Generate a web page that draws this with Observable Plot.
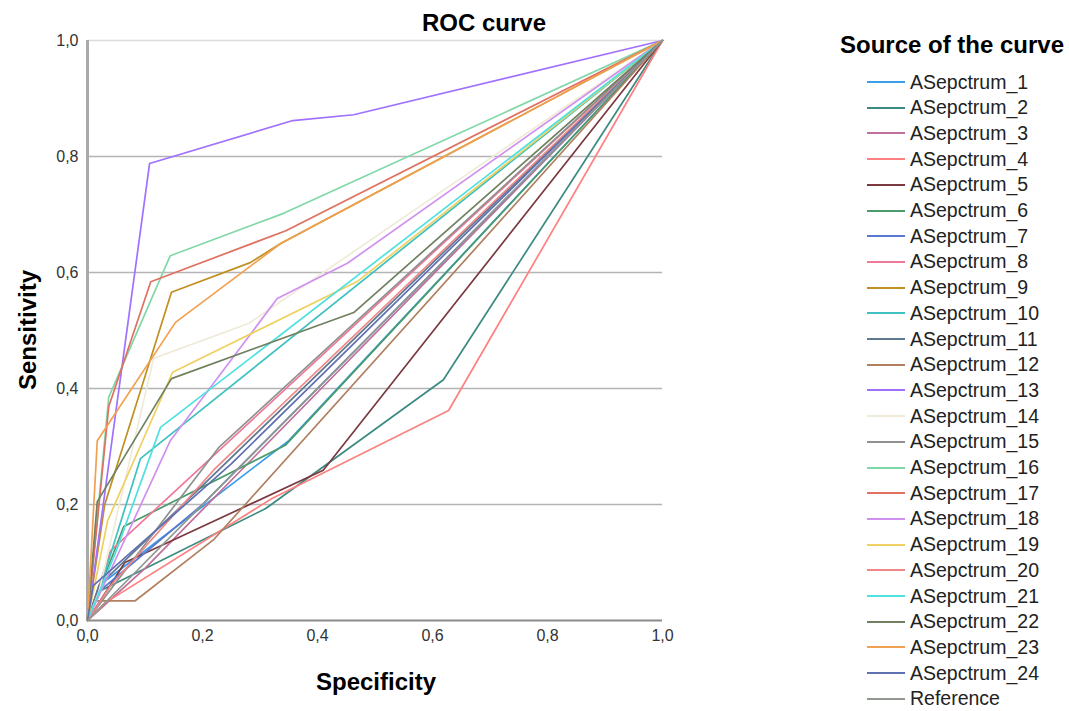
<!DOCTYPE html>
<html>
<head>
<meta charset="utf-8">
<script src="https://cdn.jsdelivr.net/npm/d3@7"></script>
<script src="https://cdn.jsdelivr.net/npm/@observablehq/plot@0.6"></script>
<style>
  html, body { margin: 0; padding: 0; background: #fff; }
  #wrap { position: relative; width: 1069px; height: 711px; overflow: hidden; font-family: "Liberation Sans", Arial, sans-serif; }
  #wrap svg { position: absolute; left: 0; top: 0; }
  .ov { position: absolute; white-space: nowrap; color: #000; }
  .title { font-weight: bold; font-size: 24px; }
  .legrow { position: absolute; left: 867px; height: 26px; display: flex; align-items: center; }
  .sw { width: 38px; height: 0; border-top: 2.5px solid; margin-right: 5px; }
  .lt { font-size: 19.5px; color: #222; }
</style>
</head>
<body>
<div id="wrap"></div>
<script>
// ---- data ----
const seriesNames = [
  "ASepctrum_1","ASepctrum_2","ASepctrum_3","ASepctrum_4","ASepctrum_5","ASepctrum_6",
  "ASepctrum_7","ASepctrum_8","ASepctrum_9","ASepctrum_10","ASepctrum_11","ASepctrum_12",
  "ASepctrum_13","ASepctrum_14","ASepctrum_15","ASepctrum_16","ASepctrum_17","ASepctrum_18",
  "ASepctrum_19","ASepctrum_20","ASepctrum_21","ASepctrum_22","ASepctrum_23","ASepctrum_24","Reference"
];
const seriesColors = [
  "#3a9ee8","#3a8a80","#c0709a","#ff8080","#7a3a40","#4a9a6a",
  "#5a78d0","#f07898","#c09020","#40c0c0","#607890","#b08060",
  "#a070ff","#f0ead8","#909090","#80d8a8","#e07060","#d090f0",
  "#f0d060","#f08888","#50e0e0","#708060","#f0a050","#6070b0","#909890"
];
// each curve: [specificity axis value, sensitivity]
const curve1  = [[0,0],[0.02,0.06],[0.35,0.31],[1,1]];
const curve2  = [[0,0],[0.02,0.05],[0.31,0.193],[0.619,0.415],[1,1]];
const curve3  = [[0,0],[0.1,0.09],[1,1]];
const curve4  = [[0,0],[0.03,0.03],[0.32,0.21],[0.628,0.362],[1,1]];
const curve5  = [[0,0],[0.065,0.1],[0.41,0.259],[1,1]];
const curve6  = [[0,0],[0.063,0.162],[0.344,0.302],[1,1]];
const curve7  = [[0,0],[0.02,0.05],[0.2,0.2],[1,1]];
const curve8  = [[0,0],[0.04,0.12],[1,1]];
const curve9  = [[0,0],[0.03,0.2],[0.146,0.566],[0.283,0.617],[0.336,0.65],[1,1]];
const curve10 = [[0,0],[0.02,0.05],[0.092,0.279],[1,1]];
const curve11 = [[0,0],[0.02,0.06],[1,1]];
const curve12 = [[0,0],[0.015,0.034],[0.083,0.034],[0.22,0.14],[1,1]];
const curve13 = [[0,0],[0.108,0.788],[0.357,0.862],[0.463,0.872],[1,1]];
const curve14 = [[0,0],[0.02,0.05],[0.115,0.452],[0.28,0.512],[1,1]];
const curve15 = [[0,0],[0.03,0.04],[0.228,0.298],[1,1]];
const curve16 = [[0,0],[0.037,0.385],[0.144,0.629],[0.341,0.702],[1,1]];
const curve17 = [[0,0],[0.037,0.369],[0.11,0.584],[0.345,0.672],[1,1]];
const curve18 = [[0,0],[0.144,0.31],[0.33,0.555],[0.452,0.616],[1,1]];
const curve19 = [[0,0],[0.035,0.172],[0.148,0.428],[0.47,0.585],[1,1]];
const curve20 = [[0,0],[0.04,0.06],[0.22,0.26],[1,1]];
const curve21 = [[0,0],[0.05,0.12],[0.127,0.333],[1,1]];
const curve22 = [[0,0],[0.017,0.205],[0.146,0.417],[0.463,0.531],[1,1]];
const curve23 = [[0,0],[0.017,0.31],[0.153,0.514],[0.336,0.65],[1,1]];
const curve24 = [[0,0],[0.01,0.06],[0.25,0.27],[1,1]];
const reference = [[0,0],[1,1]];
const tickValues = [0, 0.2, 0.4, 0.6, 0.8, 1.0];

const curves = [curve1,curve2,curve3,curve4,curve5,curve6,curve7,curve8,curve9,curve10,
  curve11,curve12,curve13,curve14,curve15,curve16,curve17,curve18,curve19,curve20,
  curve21,curve22,curve23,curve24,reference];

const rows = curves.flatMap((c, i) => c.map(([x, y]) => ({name: seriesNames[i], x, y})));
const fmt = d => d.toFixed(1).replace(".", ",");

const chart = Plot.plot({
  width: 1069, height: 711,
  marginLeft: 87, marginRight: 407, marginTop: 40, marginBottom: 91,
  style: {fontFamily: '"Liberation Sans", Arial, sans-serif', fontSize: "16px", color: "#333", background: "transparent"},
  x: {domain: [0, 1], ticks: tickValues, tickFormat: fmt, tickSize: 0, tickPadding: 9, label: null},
  y: {domain: [0, 1], ticks: tickValues, tickFormat: fmt, tickSize: 0, tickPadding: 9, label: null},
  color: {domain: seriesNames, range: seriesColors},
  marks: [
    Plot.ruleY(tickValues.filter(v => v > 0 && v < 1), {stroke: "#b4b4b4", strokeWidth: 1.5}),
    Plot.ruleY([1], {stroke: "#dcdcdc", strokeWidth: 1.5}),
    Plot.ruleX([0], {stroke: "#aaaaaa", strokeWidth: 3}),
    Plot.ruleY([0], {stroke: "#8c8c8c", strokeWidth: 2}),
    Plot.line(rows, {x: "x", y: "y", z: "name", stroke: "name", strokeWidth: 1.7})
  ]
});
const wrap = document.getElementById("wrap");
wrap.appendChild(chart);

function ov(text, cls, css) {
  const d = document.createElement("div");
  d.className = "ov " + cls;
  d.textContent = text;
  Object.assign(d.style, css);
  wrap.appendChild(d);
  return d;
}
ov("ROC curve", "title", {left: "484px", top: "9px", transform: "translateX(-50%)"});
ov("Specificity", "title", {left: "376px", top: "668px", transform: "translateX(-50%)"});
ov("Sensitivity", "title", {left: "28px", top: "330px", transform: "translate(-50%,-50%) rotate(-90deg)"});
ov("Source of the curve", "title", {left: "840px", top: "31px"});

seriesNames.forEach((n, i) => {
  const r = document.createElement("div");
  r.className = "legrow";
  r.style.top = (69 + i * 25.7) + "px";
  const s = document.createElement("div");
  s.className = "sw";
  s.style.borderTopColor = seriesColors[i];
  const t = document.createElement("span");
  t.className = "lt";
  t.textContent = n;
  r.appendChild(s); r.appendChild(t);
  wrap.appendChild(r);
});
</script>
</body>
</html>
